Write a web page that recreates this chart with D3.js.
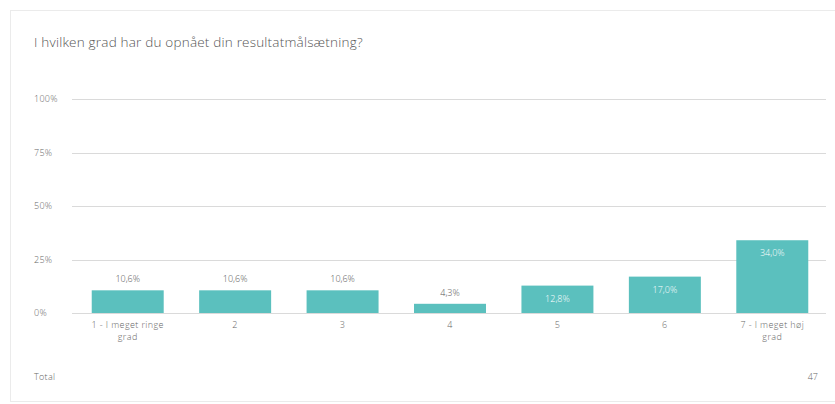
<!DOCTYPE html>
<html>
<head>
<meta charset="utf-8">
<script src="https://d3js.org/d3.v7.min.js"></script>
<style>
    body { margin: 0; background: #fff; }
    svg text { font-family: "Open Sans", Lato, sans-serif; font-weight: 300; }
</style>
</head>
<body>
<div id="chart"></div>
<script>
    var title = "I hvilken grad har du opnået din resultatmålsætning?";
    var categories = ["1 - I meget ringe grad", "2", "3", "4", "5", "6", "7 - I meget høj grad"];
    var catLines = [["1 - I meget ringe", "grad"], ["2"], ["3"], ["4"], ["5"], ["6"], ["7 - I meget høj", "grad"]];
    var percents = [10.6, 10.6, 10.6, 4.3, 12.8, 17.0, 34.0];
    var yTicks = [0, 25, 50, 75, 100];
    var total = 47;

    var width = 835, height = 404;
    var svg = d3.select("#chart").append("svg")
        .attr("width", width).attr("height", height);

    // card
    svg.append("rect")
        .attr("x", 10.5).attr("y", 10.5)
        .attr("width", 840).attr("height", 391)
        .attr("fill", "#fff")
        .attr("stroke", "#ebebeb");

    svg.append("text")
        .attr("x", 34).attr("y", 47)
        .attr("font-size", 13.5)
        .attr("letter-spacing", 0.2)
        .attr("fill", "#555")
        .text(title);

    var x = d3.scaleBand()
        .domain(categories)
        .range([74, 826])
        .paddingInner(0.33)
        .paddingOuter(0.165);

    var y = d3.scaleLinear()
        .domain([0, 100])
        .range([313, 99]);

    // grid
    var grid = svg.append("g");
    grid.selectAll("line").data(yTicks).enter().append("line")
        .attr("x1", 72).attr("x2", 826)
        .attr("y1", function (d) { return Math.round(y(d)) + 0.5; })
        .attr("y2", function (d) { return Math.round(y(d)) + 0.5; })
        .attr("stroke", "#dadada");
    grid.selectAll("text").data(yTicks).enter().append("text")
        .attr("x", 34)
        .attr("y", function (d) { return y(d) + 3; })
        .attr("font-size", 9)
        .attr("letter-spacing", 0.3)
        .attr("fill", "#666")
        .text(function (d) { return d + "%"; });

    // bars
    svg.selectAll(".bar").data(percents).enter().append("rect")
        .attr("class", "bar")
        .attr("x", function (d, i) { return x(categories[i]); })
        .attr("y", function (d) { return y(d); })
        .attr("width", x.bandwidth())
        .attr("height", function (d) { return y(0) - y(d); })
        .attr("fill", "#5bc0be");

    // value labels
    svg.selectAll(".val").data(percents).enter().append("text")
        .attr("class", "val")
        .attr("x", function (d, i) { return x(categories[i]) + x.bandwidth() / 2; })
        .attr("y", function (d) { return d > 12 ? y(d) + 16 : y(d) - 8; })
        .attr("text-anchor", "middle")
        .attr("font-size", 9)
        .attr("fill", function (d) { return d > 12 ? "#fff" : "#555"; })
        .text(function (d) { return d.toFixed(1).replace(".", ",") + "%"; });

    // category labels
    var cat = svg.selectAll(".cat").data(catLines).enter().append("text")
        .attr("class", "cat")
        .attr("text-anchor", "middle")
        .attr("font-size", 9)
        .attr("letter-spacing", 0.4)
        .attr("fill", "#666");
    cat.selectAll("tspan").data(function (d, i) {
        return d.map(function (s) { return { s: s, i: i }; });
    }).enter().append("tspan")
        .attr("x", function (d) { return x(categories[d.i]) + x.bandwidth() / 2; })
        .attr("y", function (d, j) { return 328 + j * 11.5; })
        .text(function (d) { return d.s; });

    svg.append("text")
        .attr("x", 34).attr("y", 380)
        .attr("font-size", 9)
        .attr("letter-spacing", 0.3)
        .attr("fill", "#666")
        .text("Total");
    svg.append("text")
        .attr("x", 818).attr("y", 380)
        .attr("text-anchor", "end")
        .attr("font-size", 9)
        .attr("fill", "#666")
        .text(total);
</script>
</body>
</html>
